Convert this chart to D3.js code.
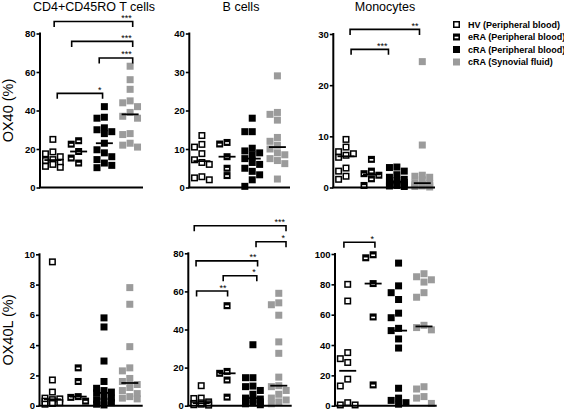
<!DOCTYPE html>
<html>
<head>
<meta charset="utf-8">
<script src="https://cdn.jsdelivr.net/npm/d3@7"></script>
<style>
  html, body { margin: 0; padding: 0; background: #fff; }
  svg { display: block; }
  text { font-family: Arial, "Liberation Sans", Helvetica, sans-serif; }
</style>
</head>
<body>
<svg id="chart" width="564" height="410"></svg>
<script>
// ---------- DATA ----------
const groups = ["HV (Peripheral blood)", "eRA (Peripheral blood)", "cRA (Peripheral blood)", "cRA (Synovial fluid)"];
const cellTypes = ["CD4+CD45RO T cells", "B cells", "Monocytes"];
const rowLabels = ["OX40 (%)", "OX40L (%)"];

// OX40 (%)
const ox40T_HV  = [25, 18.5, 17.5, 16, 14.5, 14, 13, 12, 11, 10.5];
const ox40T_eRA = [24.3, 22.5, 18.7, 15.3, 12.7];
const ox40T_cRA = [42, 36.5, 36, 31, 30, 29, 28, 23, 19.6, 18, 16, 14.5, 12.7, 11.5, 10.3];
const ox40T_SF  = [63, 56, 51, 45, 44, 42, 39, 37, 36, 28, 27.5, 23, 22, 21];

const ox40B_HV  = [13.5, 11.2, 10.5, 8.8, 7.2, 6.5, 6, 2.8, 2.5, 2];
const ox40B_eRA = [11.7, 11.3, 8, 5, 3.1];
const ox40B_cRA = [18, 14.5, 14.5, 10.2, 9.5, 9, 8.5, 7.5, 6.5, 6, 5, 4.2, 3.3, 2, 0.3];
const ox40B_SF  = [29, 19.5, 19, 17.5, 13, 12, 11, 10, 9, 8.5, 7.5, 7, 6.2, 2.2];

const ox40M_HV  = [9.4, 7.9, 7.0, 6.6, 6.3, 5.9, 3.8, 3.2, 2.2, 1.6];
const ox40M_eRA = [5.5, 3.2, 2.7, 2.4, 1.7, 0.4];
const ox40M_cRA = [4.0, 3.9, 3.2, 2.5, 2.0, 1.6, 1.3, 1.1, 1.0, 0.8, 0.6, 0.5, 0.4, 0.3, 0.2];
const ox40M_SF  = [24.6, 8.3, 2.4, 2.2, 2.0, 1.5, 0.9, 0.8, 0.6, 0.5, 0.4, 0.3, 0.2, 0.1];

// OX40L (%)
const ox40LT_HV  = [9.5, 1.7, 0.9, 0.5, 0.45, 0.4, 0.3, 0.2, 0.15, 0.1];
const ox40LT_eRA = [2.5, 1.6, 0.6, 0.55, 0.3];
const ox40LT_cRA = [5.8, 5.2, 2.95, 1.6, 1.15, 1.0, 0.9, 0.85, 0.6, 0.5, 0.4, 0.3, 0.2, 0.1, 0.05];
const ox40LT_SF  = [7.8, 6.7, 3.9, 2.5, 2.3, 1.8, 1.6, 1.4, 1.2, 1.0, 0.8, 0.6, 0.5, 0.45];

const ox40LB_HV  = [10.5, 4, 3.8, 2, 1.5, 1.2, 1, 0.8, 0.5, 0.3];
const ox40LB_eRA = [52.5, 18, 17, 13.5, 4.5];
const ox40LB_cRA = [32, 14.7, 14.7, 10.3, 10, 8, 6, 4, 3.5, 3, 2.5, 2, 1.5, 1, 0.5];
const ox40LB_SF  = [59, 54, 53, 47.5, 33.5, 27.5, 15, 10.5, 10, 8, 6, 4, 3, 2, 1];

const ox40LM_HV  = [80, 69, 35, 31, 28.5, 17.5, 13, 2, 0.5, 0.5];
const ox40LM_eRA = [99.5, 97.5, 80.5, 58.5, 13.7];
const ox40LM_cRA = [94, 79, 74.5, 70, 61, 58, 51, 49.5, 44, 38, 11.5, 5, 3.5, 2, 1];
const ox40LM_SF  = [87, 85, 83, 81.5, 74.5, 71.5, 53, 51.5, 50, 12.5, 11, 6, 5, 1.5];

// y-axis ticks
const ticksOX40T = [0, 20, 40, 60, 80];
const ticksOX40B = [0, 10, 20, 30, 40];
const ticksOX40M = [0, 10, 20, 30];
const ticksOX40LT = [0, 2, 4, 6, 8, 10];
const ticksOX40LB = [0, 20, 40, 60, 80];
const ticksOX40LM = [0, 20, 40, 60, 80, 100];

// significance brackets: from/to in group-index units, level in data units
const sigOX40T = [
  {from: 0.05, to: 3.1, level: 86.2, label: "***"},
  {from: 0.73, to: 3.1, level: 75.9, label: "***"},
  {from: 1.8,  to: 3.1, level: 67.3, label: "***"},
  {from: 0.17, to: 1.93, level: 48.9, label: "*"}
];
const sigOX40B = [];
const sigOX40M = [
  {from: 0.16, to: 2.89, level: 30.9, label: "**"},
  {from: 0.2,  to: 1.67, level: 27.0, label: "***"}
];
const sigOX40LT = [];
const sigOX40LB = [
  {from: -0.27, to: 3.28, level: 94.5, label: "***"},
  {from: 2.12,  to: 3.28, level: 86.1, label: "*"},
  {from: -0.2,  to: 2.18, level: 76.0, label: "**"},
  {from: 0.85,  to: 2.15, level: 68.2, label: "*"},
  {from: -0.18, to: 1.02, level: 60.2, label: "**"}
];
const sigOX40LM = [
  {from: -0.15, to: 1.07, level: 107.7, label: "*"}
];

// ---------- LAYOUT ----------
const panels = [
  {series: [ox40T_HV, ox40T_eRA, ox40T_cRA, ox40T_SF], ticks: ticksOX40T, sig: sigOX40T,
   x0: 40, x1: 143, yTop: 33.5, yBot: 187.5, title: cellTypes[0], tx: 94, ylabel: rowLabels[0]},
  {series: [ox40B_HV, ox40B_eRA, ox40B_cRA, ox40B_SF], ticks: ticksOX40B, sig: sigOX40B,
   x0: 189.3, x1: 290, yTop: 33.5, yBot: 187.5, title: cellTypes[1], tx: 241},
  {series: [ox40M_HV, ox40M_eRA, ox40M_cRA, ox40M_SF], ticks: ticksOX40M, sig: sigOX40M,
   x0: 333.3, x1: 435, yTop: 34, yBot: 187.5, title: cellTypes[2], tx: 385},
  {series: [ox40LT_HV, ox40LT_eRA, ox40LT_cRA, ox40LT_SF], ticks: ticksOX40LT, sig: sigOX40LT,
   x0: 39.5, x1: 142.7, yTop: 254.3, yBot: 405.7, ylabel: rowLabels[1]},
  {series: [ox40LB_HV, ox40LB_eRA, ox40LB_cRA, ox40LB_SF], ticks: ticksOX40LB, sig: sigOX40LB,
   x0: 188.3, x1: 291.7, yTop: 253.3, yBot: 405.7},
  {series: [ox40LM_HV, ox40LM_eRA, ox40LM_cRA, ox40LM_SF], ticks: ticksOX40LM, sig: sigOX40LM,
   x0: 335, x1: 436.7, yTop: 254, yBot: 405.7}
];

const svg = d3.select("#chart");
const MS = 7; // marker size
const grey = "#9b9b9b";

function drawMarker(g, gi, x, y) {
  const s = MS;
  if (gi === 0) {
    g.append("rect").attr("x", x - s/2 + 0.75).attr("y", y - s/2 + 0.75)
      .attr("width", s - 1.5).attr("height", s - 1.5)
      .attr("fill", "#fff").attr("stroke", "#000").attr("stroke-width", 1.5);
  } else if (gi === 1) {
    g.append("rect").attr("x", x - s/2).attr("y", y - s/2)
      .attr("width", s).attr("height", s).attr("fill", "#000");
    g.append("rect").attr("x", x - s/2 + 1.6).attr("y", y - 0.3)
      .attr("width", s - 3.2).attr("height", 1.6).attr("fill", "#fff");
  } else if (gi === 2) {
    g.append("rect").attr("x", x - s/2).attr("y", y - s/2)
      .attr("width", s).attr("height", s).attr("fill", "#000");
  } else {
    g.append("rect").attr("x", x - s/2).attr("y", y - s/2)
      .attr("width", s).attr("height", s).attr("fill", grey);
  }
}

// deterministic beeswarm: place each point at the nearest free horizontal offset
function swarm(vals, y, cx) {
  const D = 7;
  const cands = [0, -3.7, 3.7, -7.4, 7.4];
  const pts = vals.map(v => ({v, py: y(v)})).sort((a, b) => a.py - b.py);
  const placed = [];
  pts.forEach(p => {
    let best = null, bestCost = Infinity;
    for (const c of cands) {
      let cost = 0;
      placed.forEach(q => {
        const dx = Math.abs(c - q.off), dy = Math.abs(p.py - q.py);
        if (dx < D && dy < D) cost += (D - dx) * (D - dy);
      });
      if (cost === 0) { best = c; bestCost = 0; break; }
      if (cost < bestCost) { bestCost = cost; best = c; }
    }
    p.off = best;
    placed.push(p);
  });
  pts.forEach(p => { p.px = cx + p.off; });
  return pts;
}

panels.forEach(P => {
  const g = svg.append("g");
  const ymax = P.ticks[P.ticks.length - 1];
  const y = d3.scaleLinear().domain([0, ymax]).range([P.yBot, P.yTop]);
  const x = d3.scaleLinear().domain([-0.5, 3.5]).range([P.x0, P.x1]);

  // y axis
  const axis = d3.axisLeft(y).tickValues(P.ticks).tickSize(3.5).tickPadding(1).tickFormat(d3.format("d"));
  const ag = g.append("g").attr("transform", `translate(${P.x0},0)`).call(axis);
  ag.select(".domain").attr("stroke", "#000").attr("stroke-width", 2)
    .attr("d", `M0,${P.yTop - 1}V${P.yBot}`);
  ag.selectAll(".tick line").attr("stroke", "#000").attr("stroke-width", 1.6);
  ag.selectAll(".tick text").attr("font-size", 9.5).attr("font-weight", "bold").attr("fill", "#000")
    .attr("font-family", "Arial, 'Liberation Sans', sans-serif");

  // points
  P.series.forEach((vals, gi) => {
    const pts = swarm(vals, y, x(gi));
    const mg = g.append("g");
    pts.forEach(p => drawMarker(mg, gi, p.px, p.py));
  });
  // medians
  P.series.forEach((vals, gi) => {
    const m = d3.median(vals);
    g.append("line").attr("x1", x(gi) - 8.5).attr("x2", x(gi) + 8.5)
      .attr("y1", y(m)).attr("y2", y(m)).attr("stroke", "#000").attr("stroke-width", 1.8);
  });

  // x axis
  g.append("line").attr("x1", P.x0 - 1).attr("x2", P.x1).attr("y1", P.yBot).attr("y2", P.yBot)
    .attr("stroke", "#000").attr("stroke-width", 2);

  // significance brackets
  P.sig.forEach(s => {
    const xa = x(s.from), xb = x(s.to), yl = y(s.level);
    g.append("path").attr("d", `M${xa},${yl + 5.5}V${yl}H${xb}V${yl + 5.5}`)
      .attr("fill", "none").attr("stroke", "#000").attr("stroke-width", 1.6);
    g.append("text").attr("x", xb - 1).attr("y", yl - 0.5).attr("text-anchor", "end")
      .attr("font-size", 9).attr("fill", "#000").text(s.label);
  });

  // title
  if (P.title) {
    g.append("text").attr("x", P.tx).attr("y", 11)
      .attr("text-anchor", "middle").attr("font-size", 12.5).attr("fill", "#000").text(P.title);
  }
  // y label
  if (P.ylabel) {
    const cy = (P.yTop + P.yBot) / 2;
    g.append("text").attr("transform", `translate(12.5,${cy}) rotate(-90)`)
      .attr("text-anchor", "middle").attr("font-size", 14.5).attr("fill", "#000").text(P.ylabel);
  }
});

// legend
const lg = svg.append("g");
groups.forEach((name, i) => {
  const yy = 24.5 + i * 12.5;
  drawMarker(lg, i, 456.5, yy);
  lg.append("text").attr("x", 468).attr("y", yy + 3.2).attr("font-size", 9).attr("font-weight", "bold")
    .attr("fill", "#000").text(name);
});
</script>
</body>
</html>
